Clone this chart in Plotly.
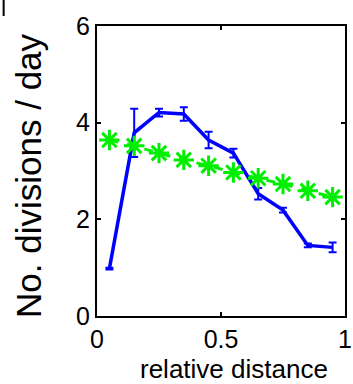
import plotly.graph_objects as go

# Data
rel_dist = [0.05, 0.15, 0.25, 0.35, 0.45, 0.55, 0.65, 0.75, 0.85, 0.95]
blue_div = [0.98, 3.79, 4.21, 4.18, 3.64, 3.37, 2.53, 2.19, 1.46, 1.42]
blue_err = [0.02, 0.50, 0.08, 0.14, 0.17, 0.09, 0.12, 0.05, 0.04, 0.10]
green_div = [3.64, 3.52, 3.37, 3.23, 3.11, 2.97, 2.85, 2.73, 2.59, 2.46]

x_ticks = [0, 0.5, 1]
x_ticklabels = ["0", "0.5", "1"]
y_ticks = [0, 2, 4, 6]
y_ticklabels = ["0", "2", "4", "6"]

W, H = 353, 384
L, R, T, B = 97, 1, 26, 68
pw, ph = W - L - R, H - T - B

def px_x(p):
    return (p - L) / pw

def px_y(p):
    return (H - B - p) / ph

font = "Liberation Sans, Arial, Helvetica, sans-serif"

fig = go.Figure()
fig.add_trace(go.Scatter(
    x=rel_dist, y=blue_div, mode="lines",
    line=dict(color="#0000ff", width=3.5),
    error_y=dict(type="data", array=blue_err, visible=True,
                 color="#0000ff", thickness=2, width=4),
    showlegend=False, cliponaxis=False,
))
fig.add_trace(go.Scatter(
    x=rel_dist, y=green_div, mode="lines+markers",
    line=dict(color="#00ee00", width=3, dash="dash"),
    marker=dict(symbol="asterisk-open", size=17,
                line=dict(color="#00ee00", width=3)),
    showlegend=False, cliponaxis=False,
))

axis_common = dict(
    showgrid=False, zeroline=False, showline=True, linecolor="black",
    linewidth=2, mirror="ticks", ticks="inside", ticklen=4, tickwidth=1.5,
    tickcolor="black", tickfont=dict(family=font, size=25, color="black"),
    ticklabeloverflow="allow",
)
fig.update_xaxes(range=[0, 1], tickvals=x_ticks, ticktext=x_ticklabels,
                 ticklabelstandoff=0, **axis_common)
fig.update_yaxes(range=[0, 6], tickvals=y_ticks, ticktext=y_ticklabels,
                 ticklabelstandoff=0, **axis_common)

fig.add_annotation(text="No. divisions / day", textangle=-90,
                   x=px_x(26), y=px_y(175), xref="paper", yref="paper",
                   xanchor="center", yanchor="middle", showarrow=False,
                   font=dict(family=font, size=35, color="black"))
fig.add_annotation(text="relative distance",
                   x=px_x(238), y=px_y(369), xref="paper", yref="paper",
                   xanchor="center", yanchor="middle", showarrow=False,
                   font=dict(family=font, size=26, color="black"))
fig.add_shape(type="line", xref="paper", yref="paper",
              x0=px_x(1), x1=px_x(1), y0=px_y(0), y1=px_y(16),
              line=dict(color="black", width=2))

fig.update_layout(
    width=W, height=H, margin=dict(l=L, r=R, t=T, b=B),
    plot_bgcolor="white", paper_bgcolor="white",
)
fig.write_html("out.html")
